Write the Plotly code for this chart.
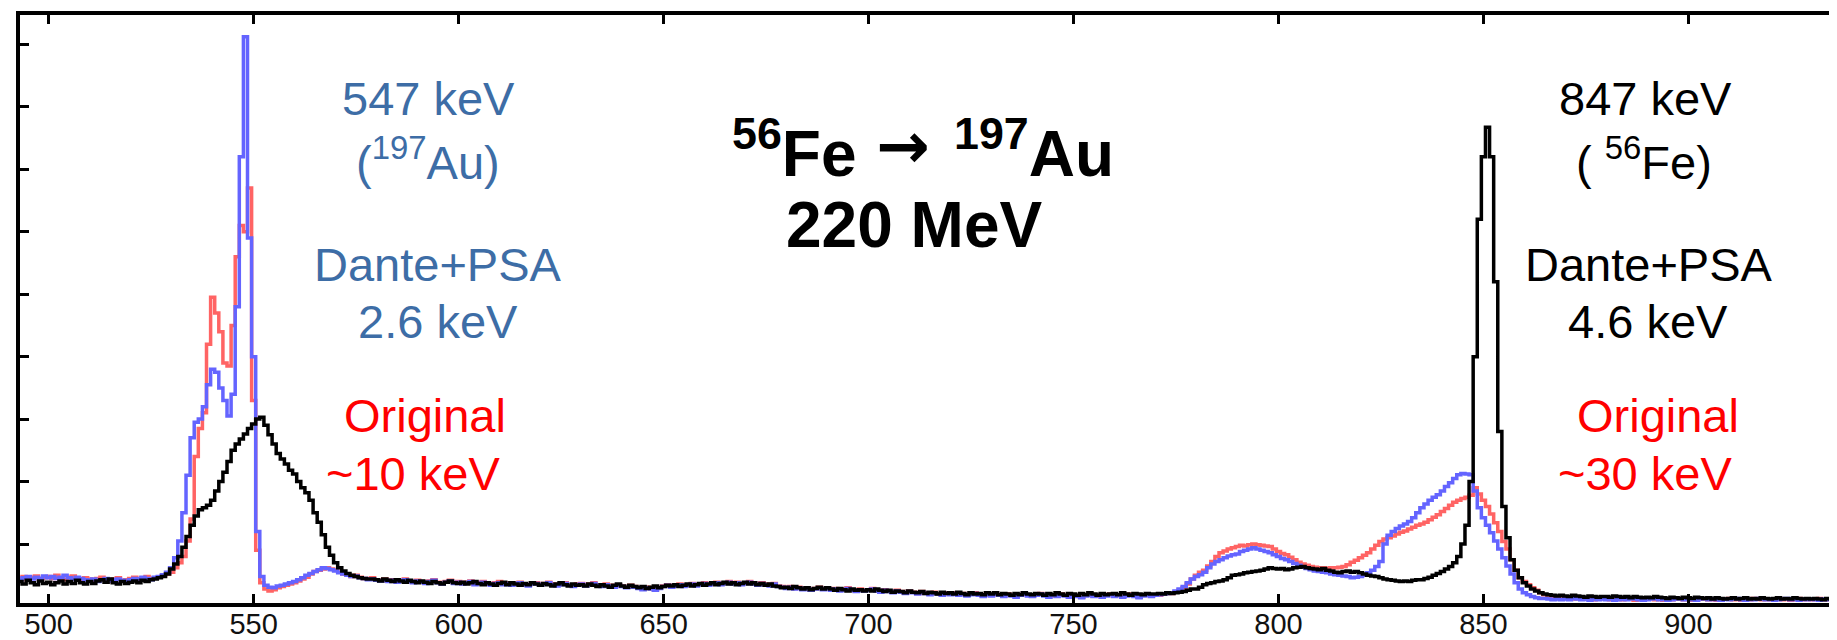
import plotly.graph_objects as go

# ---------------- data (1 keV bins, 493 ... 936 keV) ----------------
energy_keV = list(range(493, 937))

counts_original = [
    45, 48, 43, 47, 49, 44, 46,
    48, 45, 50, 46, 43, 47, 49, 44, 42, 46,
    44, 41, 45, 47, 42, 40, 44, 46, 41, 43,
    45, 47, 43, 46, 48, 44, 46, 47, 49, 52,
    55, 62, 70, 80, 105, 140, 240, 285, 310, 420,
    495, 470, 440, 390, 385, 450, 560, 610, 600, 670,
    330, 90, 38, 28, 25, 27, 30, 32, 34, 36,
    38, 41, 44, 47, 52, 56, 58, 60, 62, 60,
    58, 55, 52, 50, 48, 50, 47, 45, 44, 46,
    43, 42, 44, 41, 43, 40, 42, 44, 41, 39,
    42, 40, 38, 41, 43, 39, 37, 40, 42, 38,
    40, 37, 39, 41, 36, 38, 40, 37, 35, 38,
    40, 36, 38, 35, 37, 39, 36, 34, 37, 38,
    35, 37, 39, 36, 34, 36, 38, 35, 33, 36,
    37, 34, 36, 38, 35, 33, 36, 34, 32, 35,
    33, 31, 34, 32, 30, 28, 31, 29, 27, 30,
    33, 35, 32, 34, 36, 33, 35, 37, 34, 36,
    38, 35, 37, 39, 36, 38, 40, 37, 39, 36,
    38, 40, 37, 35, 38, 36, 34, 37, 33, 32,
    30, 32, 29, 31, 28, 30, 27, 29, 31, 28,
    30, 27, 29, 26, 28, 30, 27, 25, 28, 26,
    27, 29, 26, 24, 27, 25, 23, 26, 24, 22,
    25, 23, 21, 24, 22, 20, 23, 21, 19, 22,
    20, 22, 19, 21, 18, 20, 22, 19, 17, 20,
    18, 21, 19, 17, 20, 18, 16, 19, 21, 18,
    17, 19, 21, 18, 16, 19, 17, 20, 18, 16,
    19, 17, 15, 18, 20, 17, 19, 16, 18, 20,
    17, 19, 16, 18, 20, 17, 15, 18, 19, 17,
    19, 18, 20, 22, 21, 23, 26, 30, 36, 44,
    50, 55, 58, 65, 72, 80, 86, 89, 92, 94,
    96, 98, 97, 99, 100, 99, 98, 97, 96, 92,
    88, 85, 83, 79, 75, 71, 68, 66, 64, 63,
    62, 62, 61, 62, 62, 63, 64, 67, 71, 74,
    78, 82, 86, 92, 98, 104, 108, 110, 113, 116,
    119, 121, 124, 127, 130, 132, 135, 139, 143, 147,
    152, 157, 162, 167, 170, 173, 175, 178, 190, 180,
    170, 160, 148, 134, 120, 104, 92, 75, 58, 46,
    40, 35, 30, 26, 22, 19, 17, 15, 14, 13,
    13, 14, 12, 13, 14, 12, 13, 11, 12, 13,
    12, 11, 13, 12, 11, 13, 12, 10, 12, 11,
    12, 13, 11, 12, 10, 12, 11, 13, 12, 11,
    12, 10, 11, 13, 12, 11, 12, 10, 11, 12,
    13, 11, 12, 10, 12, 11, 13, 12, 11, 12,
    11, 12, 13, 11, 12, 10, 12, 13, 11, 12,
    11, 12, 13, 11, 12, 11, 10,
]

counts_dante_psa = [
    43, 46, 48, 44, 47, 45, 49,
    46, 48, 45, 47, 50, 46, 44, 47, 45, 43,
    42, 44, 40, 43, 45, 41, 43, 44, 42, 40,
    43, 45, 44, 47, 45, 43, 47, 48, 51, 55,
    62, 78, 105, 150, 210, 270, 295, 300, 320, 355,
    380, 375, 350, 330, 305, 340, 480, 720, 912, 590,
    400, 120, 48, 34, 31, 30, 33, 34, 36, 38,
    40, 43, 46, 50, 53, 56, 59, 62, 61, 59,
    57, 54, 52, 50, 48, 49, 46, 45, 43, 44,
    42, 41, 43, 40, 42, 39, 41, 43, 40, 38,
    41, 39, 37, 40, 42, 38, 36, 39, 41, 37,
    39, 36, 38, 40, 35, 37, 39, 36, 34, 37,
    38, 35, 37, 34, 36, 38, 35, 33, 36, 37,
    34, 36, 38, 35, 33, 35, 37, 34, 32, 35,
    36, 33, 35, 37, 34, 32, 35, 33, 31, 34,
    32, 30, 33, 31, 29, 27, 30, 28, 26, 29,
    32, 34, 31, 33, 35, 32, 34, 36, 33, 35,
    37, 34, 36, 38, 35, 37, 39, 36, 38, 35,
    37, 39, 36, 34, 37, 35, 33, 36, 32, 31,
    29, 31, 28, 30, 27, 29, 26, 28, 30, 27,
    29, 26, 28, 25, 27, 29, 26, 24, 27, 25,
    26, 28, 25, 23, 26, 24, 22, 25, 23, 21,
    24, 22, 20, 23, 21, 19, 22, 20, 18, 21,
    19, 21, 18, 20, 17, 19, 21, 18, 16, 19,
    17, 20, 18, 16, 19, 17, 15, 18, 20, 17,
    16, 18, 20, 17, 15, 18, 16, 19, 17, 15,
    18, 16, 14, 17, 19, 16, 18, 15, 17, 19,
    16, 18, 15, 17, 19, 16, 14, 17, 18, 16,
    18, 19, 20, 21, 22, 25, 28, 32, 38, 44,
    48, 51, 55, 62, 68, 72, 75, 78, 81, 83,
    84, 88, 90, 92, 94, 92, 90, 88, 86, 83,
    80, 77, 75, 72, 69, 66, 63, 61, 59, 57,
    56, 55, 54, 52, 51, 50, 49, 48, 46, 47,
    48, 50, 54, 58, 64, 72, 100, 114, 120, 125,
    129, 132, 136, 142, 150, 158, 164, 170, 175, 179,
    185, 192, 198, 205, 211, 213, 212, 211, 185, 158,
    142, 130, 118, 105, 92, 78, 65, 52, 38, 28,
    22, 19, 16, 14, 13, 13, 12, 11, 12, 11,
    12, 11, 13, 12, 11, 12, 10, 12, 11, 12,
    11, 12, 10, 11, 12, 11, 13, 12, 11, 10,
    11, 12, 13, 11, 12, 10, 11, 12, 13, 11,
    12, 11, 10, 12, 13, 11, 12, 11, 10, 12,
    11, 12, 13, 11, 10, 12, 11, 13, 12, 11,
    12, 10, 11, 12, 13, 11, 12, 10, 12, 11,
    12, 11, 10, 12, 11, 12, 11,
]

counts_black = [
    40, 36, 42, 38, 35, 41, 37,
    39, 35, 38, 41, 36, 40, 37, 42, 38, 36,
    40, 37, 41, 43, 39, 44, 38, 36, 40, 37,
    39, 41, 38, 42, 40, 43, 44, 46, 48, 52,
    60, 68, 80, 95, 112, 130, 145, 155, 158, 162,
    170, 185, 200, 215, 232, 250, 260, 268, 276, 285,
    292, 300, 303, 290, 275, 260, 245, 236, 228, 218,
    212, 200, 190, 182, 170, 150, 135, 115, 95, 82,
    70, 62, 57, 53, 50, 48, 46, 45, 44, 44,
    43, 41, 44, 42, 40, 43, 41, 39, 42, 40,
    38, 41, 39, 37, 40, 38, 36, 39, 41, 38,
    37, 39, 36, 38, 40, 37, 35, 38, 36, 34,
    37, 39, 35, 38, 36, 34, 37, 35, 38, 36,
    34, 37, 35, 33, 36, 38, 35, 33, 36, 34,
    35, 33, 36, 34, 32, 35, 33, 31, 34, 36,
    33, 31, 34, 32, 30, 32, 29, 31, 33, 30,
    32, 34, 33, 35, 32, 34, 36, 33, 35, 37,
    34, 36, 38, 35, 37, 39, 36, 38, 35, 37,
    39, 36, 38, 35, 37, 34, 36, 33, 32, 30,
    31, 29, 32, 30, 28, 30, 27, 29, 31, 28,
    30, 28, 26, 29, 27, 25, 28, 26, 27, 25,
    27, 25, 28, 26, 24, 26, 23, 25, 24, 22,
    25, 23, 22, 24, 21, 23, 22, 20, 23, 21,
    22, 20, 23, 21, 19, 22, 20, 21, 19, 22,
    20, 22, 19, 21, 20, 18, 21, 19, 22, 20,
    19, 21, 20, 18, 21, 19, 22, 20, 18, 21,
    20, 18, 21, 19, 22, 20, 18, 21, 19, 20,
    21, 19, 22, 20, 18, 21, 20, 19, 21, 20,
    20, 21, 20, 22, 21, 22, 23, 24, 26, 28,
    28, 31, 35, 37, 38, 40, 41, 43, 46, 50,
    51, 52, 54, 55, 56, 57, 58, 60, 62, 61,
    60, 61, 59, 60, 62, 63, 64, 62, 61, 60,
    59, 61, 58, 57, 55, 54, 56, 57, 55, 56,
    54, 52, 50, 49, 48, 46, 44, 43, 42, 41,
    40, 41, 40, 42, 43, 43, 45, 47, 50, 53,
    56, 60, 64, 70, 80, 100, 130, 200, 400, 620,
    720, 767, 720, 520, 280, 160, 110, 75, 58, 46,
    38, 33, 28, 25, 22, 20, 19, 18, 17, 18,
    17, 16, 18, 17, 16, 15, 17, 16, 15, 16,
    16, 15, 17, 16, 15, 16, 14, 16, 15, 14,
    15, 14, 16, 15, 14, 13, 15, 14, 13, 15,
    14, 13, 15, 14, 13, 14, 12, 14, 13, 12,
    13, 14, 12, 13, 14, 12, 13, 12, 14, 13,
    12, 13, 14, 12, 13, 12, 14, 13, 12, 13,
    12, 13, 12, 11, 13, 12, 12,
]

x_tick_values = [500, 550, 600, 650, 700, 750, 800, 850, 900]
x_tick_labels = ["500", "550", "600", "650", "700", "750", "800", "850", "900"]
y_tick_values = [100, 200, 300, 400, 500, 600, 700, 800, 900]

assert len(counts_original) == len(energy_keV)
assert len(counts_dante_psa) == len(energy_keV)
assert len(counts_black) == len(energy_keV)

# ---------------- figure ----------------
W, H = 1837, 640
ML, MR, MT, MB = 12, 3, 6, 45
FONT = "Liberation Sans, Arial, Helvetica, sans-serif"

fig = go.Figure()
series = [
    ("Original", counts_original, "#ff6464"),
    ("Dante+PSA", counts_dante_psa, "#6464ff"),
    ("Black trace", counts_black, "#000000"),
]
for name, vals, col in series:
    fig.add_trace(go.Scatter(
        x=energy_keV, y=vals, name=name, mode="lines",
        line=dict(color=col, width=3.5, shape="hvh"),
        showlegend=False, hoverinfo="skip",
    ))

pw = W - ML - MR
ph = H - MT - MB


def px(xp):
    return (xp - ML) / pw


def py(yp):
    return (H - MB - yp) / ph


BLUE_TXT = "#3d6da6"
RED_TXT = "#ff0000"
labels = [
    ("547 keV", 421, 90, BLUE_TXT),
    ("(<sup>197</sup>Au)", 421, 150, BLUE_TXT),
    ("Dante+PSA", 431, 256, BLUE_TXT),
    ("2.6 keV", 431, 313, BLUE_TXT),
    ("Original", 418, 407, RED_TXT),
    ("~10 keV", 406, 465, RED_TXT),
    ("847 keV", 1641, 90, "#000000"),
    ("( <sup>56</sup>Fe)", 1640, 150, "#000000"),
    ("Dante+PSA", 1645, 256, "#000000"),
    ("4.6 keV", 1644, 313, "#000000"),
    ("Original", 1654, 407, RED_TXT),
    ("~30 keV", 1641, 465, RED_TXT),
]
annotations = []
for text, xp, yp, col in labels:
    annotations.append(dict(
        text=text, x=px(xp), y=py(yp), xref="paper", yref="paper",
        xanchor="center", yanchor="middle", showarrow=False,
        font=dict(family=FONT, size=47, color=col),
    ))

# title: "56Fe -> 197Au" built from three pieces, then "220 MeV"
title_parts = [
    ("<b><sup>56</sup>Fe</b>", 724, 140, "left", FONT, 64),
    ("<b>→</b>", 897, 137, "center", "DejaVu Sans, sans-serif", 64),
    ("<b><sup>197</sup>Au</b>", 946, 140, "left", FONT, 64),
    ("<b>220 MeV</b>", 908, 216, "center", FONT, 64),
]
for text, xp, yp, anchor, fam, size in title_parts:
    annotations.append(dict(
        text=text, x=px(xp), y=py(yp), xref="paper", yref="paper",
        xanchor=anchor, yanchor="middle", showarrow=False,
        font=dict(family=fam, size=size, color="#000000"),
    ))

fig.update_layout(
    width=W, height=H,
    margin=dict(l=ML, r=MR, t=MT, b=MB, pad=0),
    paper_bgcolor="white", plot_bgcolor="white",
    annotations=annotations,
    showlegend=False,
)
fig.update_xaxes(
    range=[493.0, 936.5], tickvals=x_tick_values, ticktext=x_tick_labels,
    ticks="inside", ticklen=9, tickwidth=3, tickcolor="black",
    showline=True, linewidth=3.5, linecolor="black", mirror="ticks",
    showgrid=False, zeroline=False, ticklabelstandoff=-8,
    tickfont=dict(family=FONT, size=29, color="#111111"),
)
fig.update_yaxes(
    range=[5.75, 946.7], tickvals=y_tick_values, showticklabels=False,
    ticks="inside", ticklen=9, tickwidth=3, tickcolor="black",
    showline=True, linewidth=3.5, linecolor="black", mirror="ticks",
    showgrid=False, zeroline=False,
)

fig.write_html("out.html")
